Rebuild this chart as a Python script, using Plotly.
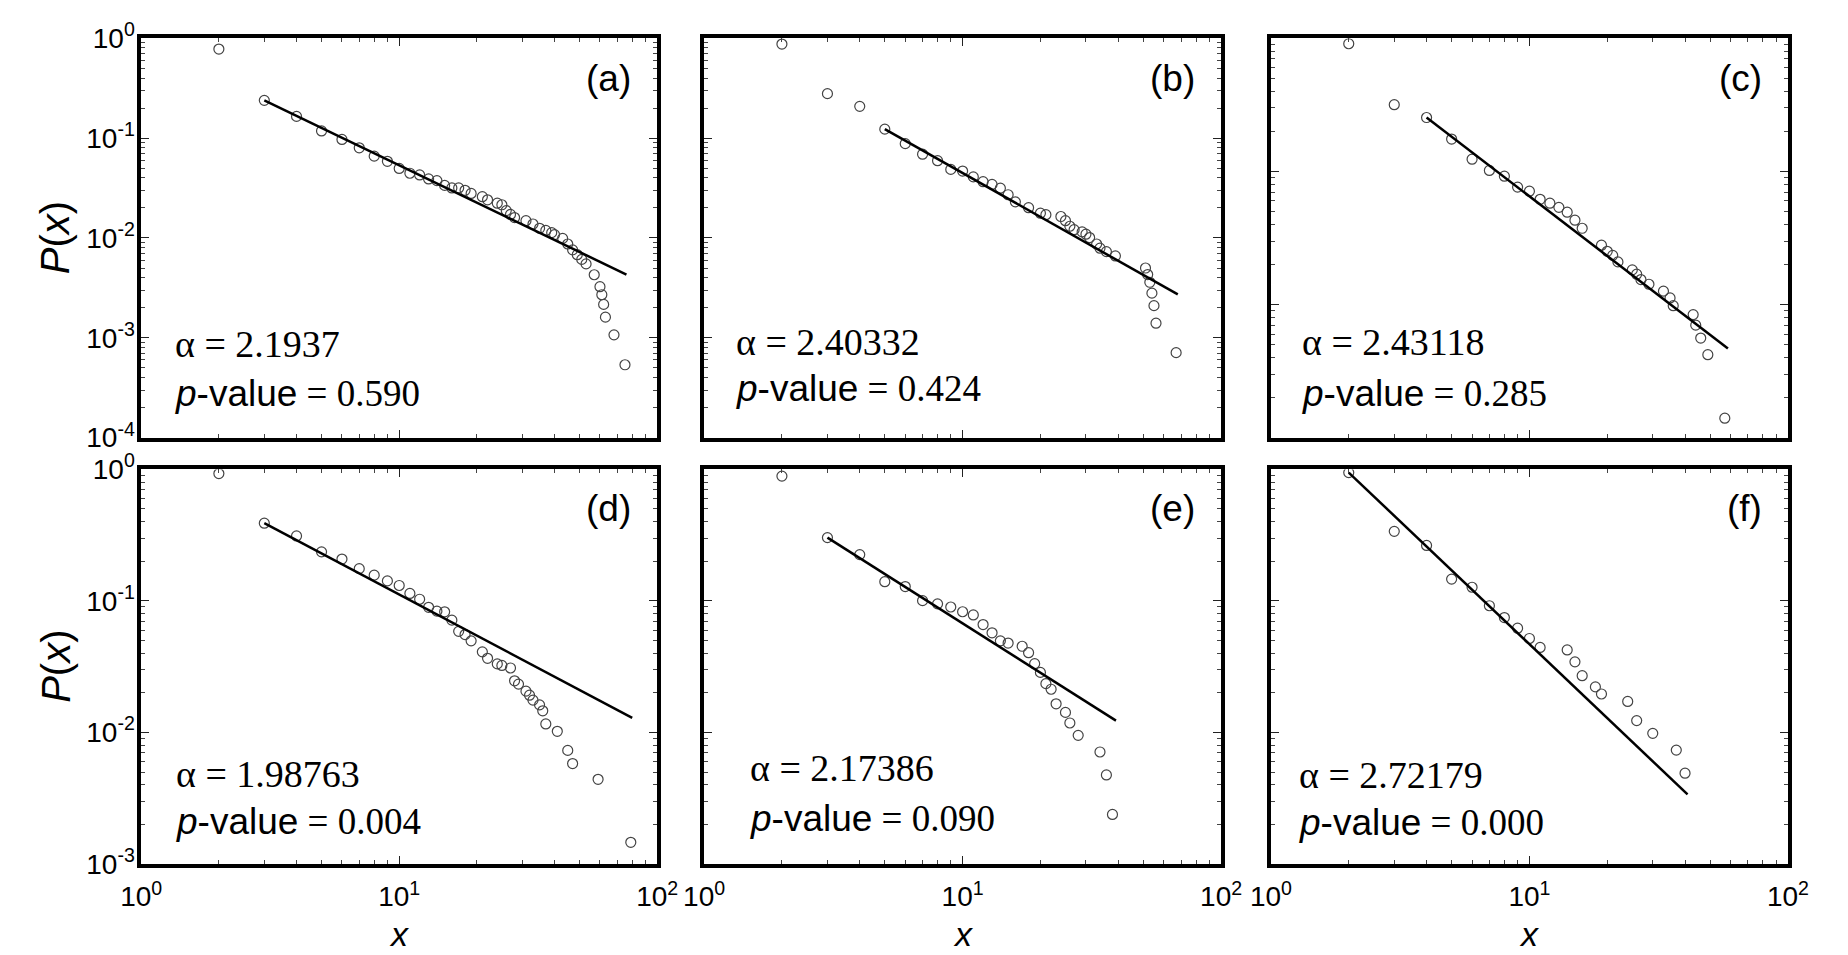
import plotly.graph_objects as go

# ---------------- data ----------------
a_x = [2, 3, 4, 5, 6, 7, 8, 9, 10, 11, 12, 13, 14, 15, 16, 17, 18, 19, 21, 22, 24, 25, 26, 27, 28,
       31, 33, 35, 37, 39, 40, 43, 45, 47, 49, 51, 53, 57, 60, 61, 62, 63, 68, 75]
a_y = [0.78, 0.239, 0.165, 0.118, 0.097, 0.080, 0.066, 0.0586, 0.0497, 0.0445, 0.0428,
       0.0390, 0.0375, 0.0336, 0.0317, 0.0317, 0.030, 0.0279, 0.0259, 0.0241, 0.0223, 0.0215,
       0.0188, 0.0172, 0.0160, 0.0149, 0.0138, 0.0125, 0.0119, 0.0113, 0.0108, 0.0099, 0.0087,
       0.0076, 0.0068, 0.0061, 0.0055, 0.00428, 0.00325, 0.0027, 0.00216, 0.00161, 0.00107, 0.000537]
a_fit_x = [3, 76]
a_fit_y = [0.239, 0.0043]

b_x = [2, 3, 4, 5, 6, 7, 8, 9, 10, 11, 12, 13, 14, 15, 16, 18, 20, 21, 24, 25, 26, 27, 29, 30, 31,
       33, 34, 36, 39, 51, 52, 53, 54, 55, 56, 67]
b_y = [0.875, 0.279, 0.208, 0.123, 0.088, 0.069, 0.0594, 0.0486, 0.0468, 0.0409, 0.0366, 0.0344,
       0.0315, 0.0271, 0.0230, 0.0201, 0.0177, 0.0171, 0.0164, 0.0149, 0.0131, 0.0121, 0.0115,
       0.0109, 0.0101, 0.0087, 0.0079, 0.0073, 0.0066, 0.0050, 0.0043, 0.0036, 0.0028, 0.0021,
       0.0014, 0.00071]
b_fit_x = [5, 68]
b_fit_y = [0.123, 0.00272]

c_x = [2, 3, 4, 5, 6, 7, 8, 9, 10, 11, 12, 13, 14, 15, 16, 19, 20, 21, 22, 25, 26, 27, 29,
       33, 35, 36, 43, 44, 46, 49, 57]
c_y = [0.91, 0.317, 0.254, 0.175, 0.1235, 0.1017, 0.092, 0.0762, 0.071, 0.0617, 0.0577, 0.0537,
       0.0494, 0.043, 0.0374, 0.0279, 0.0251, 0.0234, 0.0209, 0.0182, 0.0169, 0.0154, 0.0142,
       0.0126, 0.0112, 0.0098, 0.0084, 0.0070, 0.0056, 0.0042, 0.0014]
c_fit_x = [4, 58.6]
c_fit_y = [0.254, 0.00468]

d_x = [2, 3, 4, 5, 6, 7, 8, 9, 10, 11, 12, 13, 14, 15, 16, 17, 18, 19, 21, 22, 24, 25, 27, 28, 29,
       31, 32, 33, 35, 36, 37, 41, 45, 47, 59, 79]
d_y = [0.93, 0.39, 0.312, 0.236, 0.208, 0.176, 0.157, 0.142, 0.131, 0.114, 0.103, 0.0894, 0.0836,
       0.0826, 0.0714, 0.0587, 0.0555, 0.0497, 0.041, 0.0366, 0.0332, 0.0323, 0.0309, 0.0247,
       0.0233, 0.0206, 0.0192, 0.0176, 0.0162, 0.0146, 0.0116, 0.0102, 0.0073, 0.0058, 0.0044,
       0.00146]
d_fit_x = [3, 80]
d_fit_y = [0.39, 0.0129]

e_x = [2, 3, 4, 5, 6, 7, 8, 9, 10, 11, 12, 13, 14, 15, 17, 18, 19, 20, 21, 22, 23, 25, 26, 28,
       34, 36, 38]
e_y = [0.889, 0.303, 0.225, 0.14, 0.1286, 0.1005, 0.095, 0.0899, 0.0827, 0.0782, 0.0661, 0.0572,
       0.0497, 0.0478, 0.0452, 0.0404, 0.0333, 0.0286, 0.0235, 0.0213, 0.0165, 0.0142, 0.0118,
       0.0095, 0.0071, 0.00475, 0.00238]
e_fit_x = [3, 39.2]
e_fit_y = [0.303, 0.0123]

f_x = [2, 3, 4, 5, 6, 7, 8, 9, 10, 11, 14, 15, 16, 18, 19, 24, 26, 30, 37, 40]
f_y = [0.946, 0.338, 0.264, 0.1465, 0.127, 0.0919, 0.0747, 0.062, 0.0518, 0.0443, 0.0424, 0.0344,
       0.027, 0.0222, 0.0196, 0.0172, 0.0123, 0.00984, 0.00734, 0.0049]
f_fit_x = [2, 40.9]
f_fit_y = [0.946, 0.00338]

panel_labels = ["(a)", "(b)", "(c)", "(d)", "(e)", "(f)"]
alpha_texts = ["2.1937", "2.40332", "2.43118", "1.98763", "2.17386", "2.72179"]
pvalue_texts = ["0.590", "0.424", "0.285", "0.004", "0.090", "0.000"]

x_tickvals = [1, 10, 100]
x_ticktext = ["10<sup>0</sup>", "10<sup>1</sup>", "10<sup>2</sup>"]
y_tickvals_4 = [1, 0.1, 0.01, 0.001, 0.0001]
y_ticktext_4 = ["10<sup>0</sup>", "10<sup>-1</sup>", "10<sup>-2</sup>", "10<sup>-3</sup>", "10<sup>-4</sup>"]
y_tickvals_3 = [1, 0.1, 0.01, 0.001]
y_ticktext_3 = ["10<sup>0</sup>", "10<sup>-1</sup>", "10<sup>-2</sup>", "10<sup>-3</sup>"]

# ---------------- layout geometry (pixels) ----------------
W, H = 1848, 955
cols = [(123, 651), (699, 1228), (1279, 1808)]
rows = [(19, 434), (467, 877)]

panels = [
    dict(x=a_x, y=a_y, fx=a_fit_x, fy=a_fit_y, yr=[-4, 0], row=0, col=0, ax=0.0625, ay=0.766, py=0.889),
    dict(x=b_x, y=b_y, fx=b_fit_x, fy=b_fit_y, yr=[-4, 0], row=0, col=1, ax=0.057, ay=0.761, py=0.877),
    dict(x=c_x, y=c_y, fx=c_fit_x, fy=c_fit_y, yr=[-3, 0], row=0, col=2, ax=0.057, ay=0.761, py=0.890),
    dict(x=d_x, y=d_y, fx=d_fit_x, fy=d_fit_y, yr=[-3, 0], row=1, col=0, ax=0.063, ay=0.771, py=0.893),
    dict(x=e_x, y=e_y, fx=e_fit_x, fy=e_fit_y, yr=[-3, 0], row=1, col=1, ax=0.085, ay=0.756, py=0.885),
    dict(x=f_x, y=f_y, fx=f_fit_x, fy=f_fit_y, yr=[-3, 0], row=1, col=2, ax=0.050, ay=0.775, py=0.895),
]

minor_x = [k * 10 ** e for e in range(0, 2) for k in range(2, 10)]
minor_y = [k * 10 ** e for e in range(-4, 0) for k in range(2, 10)]

SANS = "Liberation Sans, Arial, sans-serif"
SERIF = "Liberation Serif, Times New Roman, serif"

fig = go.Figure()
layout = dict(width=W, height=H, margin=dict(l=0, r=0, t=0, b=0), autosize=False,
              paper_bgcolor="white", plot_bgcolor="white", showlegend=False)
annotations = []

for i, p in enumerate(panels):
    n = i + 1
    xs = "" if n == 1 else str(n)
    x0, x1 = cols[p["col"]]
    y0, y1 = rows[p["row"]]
    xdom = [x0 / W, x1 / W]
    ydom = [1 - y1 / H, 1 - y0 / H]
    bottom = p["row"] == 1
    left = p["col"] == 0
    four = p["yr"][0] == -4
    axis_common = dict(showline=True, linewidth=3.5, linecolor="black", mirror="allticks",
                       ticks="inside", ticklen=8, tickwidth=1.2, tickcolor="#222",
                       showgrid=False, zeroline=False,
                       tickfont=dict(family=SANS, size=28, color="black"))
    layout["xaxis" + xs] = dict(type="log", range=[0, 2], domain=xdom, anchor="y" + xs,
                                tickvals=x_tickvals, ticktext=x_ticktext,
                                showticklabels=bottom, ticklabelstandoff=5,
                                minor=dict(ticks="inside", ticklen=4, tickwidth=1, tickcolor="#444",
                                           tickvals=minor_x, showgrid=False),
                                **axis_common)
    layout["yaxis" + xs] = dict(type="log", range=p["yr"], domain=ydom, anchor="x" + xs,
                                tickvals=y_tickvals_4 if four else y_tickvals_3,
                                ticktext=y_ticktext_4 if four else y_ticktext_3,
                                showticklabels=left, ticklabelstandoff=-3,
                                minor=dict(ticks="inside", ticklen=4, tickwidth=1, tickcolor="#444",
                                           tickvals=minor_y, showgrid=False),
                                **axis_common)
    fig.add_trace(go.Scatter(x=p["x"], y=p["y"], mode="markers", xaxis="x" + xs, yaxis="y" + xs,
                             marker=dict(symbol="circle-open", size=10, color="#444",
                                         line=dict(width=1.2, color="#444")),
                             hoverinfo="skip"))
    fig.add_trace(go.Scatter(x=p["fx"], y=p["fy"], mode="lines", xaxis="x" + xs, yaxis="y" + xs,
                             line=dict(color="black", width=2.5), hoverinfo="skip"))
    xr = "x" + xs + " domain"
    yr = "y" + xs + " domain"
    annotations.append(dict(xref=xr, yref=yr, x=0.953, y=0.90, xanchor="right", yanchor="middle",
                            text=panel_labels[i], showarrow=False,
                            font=dict(family=SANS, size=37, color="black")))
    annotations.append(dict(xref=xr, yref=yr, x=p["ax"], y=1 - p["ay"], xanchor="left", yanchor="middle",
                            text="\u03b1 = " + alpha_texts[i], showarrow=False,
                            font=dict(family=SERIF, size=38, color="black")))
    annotations.append(dict(xref=xr, yref=yr, x=p["ax"], y=1 - p["py"], xanchor="left", yanchor="middle",
                            text="<i>p</i>-value<span style=\"font-family:'Liberation Serif',serif\"> = "
                                 + pvalue_texts[i] + "</span>",
                            showarrow=False, font=dict(family=SANS, size=37, color="black")))

# axis titles
for (y0, y1) in rows:
    annotations.append(dict(xref="paper", yref="paper", x=35 / W, y=1 - (y0 + y1) / 2 / H,
                            xanchor="center", yanchor="middle", textangle=-90,
                            text="<i>P</i>(<i>x</i>)", showarrow=False,
                            font=dict(family=SANS, size=40, color="black")))
for (x0, x1) in cols:
    annotations.append(dict(xref="paper", yref="paper", x=(x0 + x1) / 2 / W, y=1 - 950 / H,
                            xanchor="center", yanchor="middle",
                            text="<i>x</i>", showarrow=False,
                            font=dict(family=SANS, size=34, color="black")))

layout["annotations"] = annotations
fig.update_layout(**layout)

fig.write_html("out.html", config={"displayModeBar": False},
               post_script="document.body.style.margin='0';document.body.style.overflow='hidden';")
